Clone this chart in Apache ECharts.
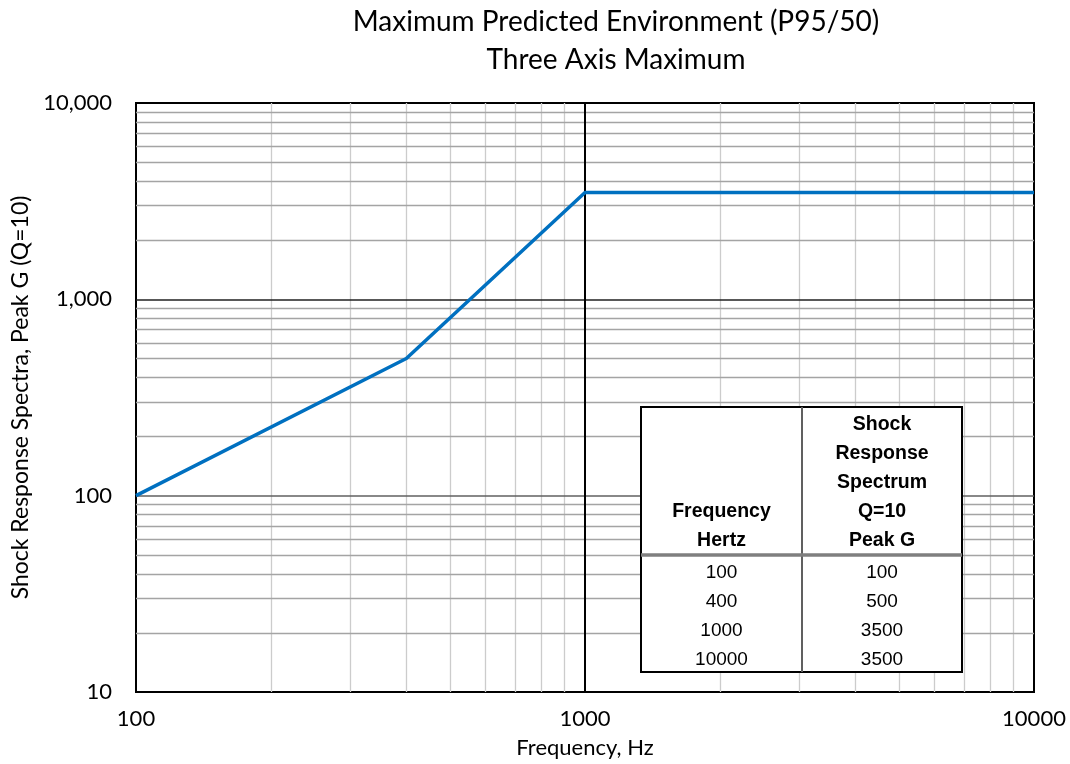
<!DOCTYPE html>
<html>
<head>
<meta charset="utf-8">
<script src="https://cdn.jsdelivr.net/npm/echarts@6/dist/echarts.min.js"></script>
<style>html,body{margin:0;padding:0;background:#fff;}#chart{width:1070px;height:764px;}</style>
</head>
<body>
<div id="chart"></div>
<script>
const titleLines = ['Maximum Predicted Environment (P95/50)', 'Three Axis Maximum'];
const xAxisName = 'Frequency, Hz';
const yAxisName = 'Shock Response Spectra, Peak G (Q=10)';
const freqHz = [100, 400, 1000, 10000];
const peakG = [100, 500, 3500, 3500];
const xMajor = [1000];
const yMajor = [100, 1000];
const xMinor = [200, 300, 400, 500, 600, 700, 800, 900, 2000, 3000, 4000, 5000, 6000, 7000, 8000, 9000];
const yMinor = [20, 30, 40, 50, 60, 70, 80, 90, 200, 300, 400, 500, 600, 700, 800, 900, 2000, 3000, 4000, 5000, 6000, 7000, 8000, 9000];
const tableHeadCol1 = ['Frequency', 'Hertz'];
const tableHeadCol2 = ['Shock', 'Response', 'Spectrum', 'Q=10', 'Peak G'];

const FONT = 'Lato';
const chart = echarts.init(document.getElementById('chart'));

const gridLines = [];
xMinor.forEach(v => gridLines.push({xAxis: v, lineStyle: {color: '#cccccc', width: 1.3, type: 'solid'}}));
yMinor.forEach(v => gridLines.push({yAxis: v, lineStyle: {color: '#a4a4a4', width: 1.3, type: 'solid'}}));
yMajor.forEach(v => gridLines.push({yAxis: v, lineStyle: {color: v === 1000 ? '#202020' : '#606060', width: 1.5, type: 'solid'}}));
xMajor.forEach(v => gridLines.push({xAxis: v, lineStyle: {color: '#000', width: 2, type: 'solid'}}));

// table graphics
const T = {x: 641, y: 407, w: 321, h: 265, colX: 802, sepY: 555};
const c1 = (T.x + T.colX) / 2, c2 = (T.colX + T.x + T.w) / 2;
const graphics = [
  {type: 'rect', z: 100, shape: {x: T.x, y: T.y, width: T.w, height: T.h}, style: {fill: '#fff', stroke: '#000', lineWidth: 2}},
  {type: 'line', z: 101, shape: {x1: T.colX, y1: T.y, x2: T.colX, y2: T.y + T.h}, style: {stroke: '#606060', lineWidth: 2}},
  {type: 'line', z: 101, shape: {x1: T.x, y1: T.sepY, x2: T.x + T.w, y2: T.sepY}, style: {stroke: '#7f7f7f', lineWidth: 3.5}}
];
const lineH = 29;
const boldFont = 'bold 19.5px "Liberation Sans"';
const regFont = '19px "Liberation Sans"';
tableHeadCol2.forEach((t, i) => graphics.push({type: 'text', z: 102, style: {text: t, x: c2, y: 425 + i * lineH, textAlign: 'center', textVerticalAlign: 'middle', font: boldFont, fill: '#000'}}));
tableHeadCol1.forEach((t, i) => graphics.push({type: 'text', z: 102, style: {text: t, x: c1, y: 512 + i * lineH, textAlign: 'center', textVerticalAlign: 'middle', font: boldFont, fill: '#000'}}));
freqHz.forEach((f, i) => {
  graphics.push({type: 'text', z: 102, style: {text: String(f), x: c1, y: 573 + i * lineH, textAlign: 'center', textVerticalAlign: 'middle', font: regFont, fill: '#000'}});
  graphics.push({type: 'text', z: 102, style: {text: String(peakG[i]), x: c2, y: 573 + i * lineH, textAlign: 'center', textVerticalAlign: 'middle', font: regFont, fill: '#000'}});
});
titleLines.forEach((t, i) => graphics.push({type: 'text', z: 102, style: {text: t, x: 616, y: 22 + i * 38, textAlign: 'center', textVerticalAlign: 'middle', font: '28px ' + FONT, fill: '#000'}}));

chart.setOption({
  backgroundColor: '#fff',
  animation: false,
  grid: {left: 136, right: 36, top: 103, bottom: 72, show: true, borderColor: '#000', borderWidth: 2, backgroundColor: 'transparent'},
  xAxis: {
    type: 'log', logBase: 10, min: 100, max: 10000,
    name: xAxisName, nameLocation: 'middle', nameGap: 45,
    nameTextStyle: {fontFamily: FONT, fontSize: 22, color: '#000'},
    axisLine: {show: true, lineStyle: {color: '#000', width: 2}},
    axisTick: {show: false},
    axisLabel: {fontFamily: FONT, fontSize: 22, color: '#000', margin: 16, formatter: v => String(Math.round(v))},
    splitLine: {show: false}
  },
  yAxis: {
    type: 'log', logBase: 10, min: 10, max: 10000,
    name: yAxisName, nameLocation: 'middle', nameGap: 102, nameRotate: 90,
    nameTextStyle: {fontFamily: FONT, fontSize: 23, color: '#000'},
    axisLine: {show: true, lineStyle: {color: '#000', width: 2}},
    axisTick: {show: false},
    axisLabel: {fontFamily: FONT, fontSize: 22, color: '#000', margin: 24, formatter: v => Math.round(v).toLocaleString('en-US')},
    splitLine: {show: false}
  },
  series: [
    {
      type: 'line', data: [], silent: true,
      markLine: {silent: true, symbol: 'none', label: {show: false}, data: gridLines, animation: false}
    },
    {
      type: 'line', z: 10,
      data: freqHz.map((f, i) => [f, peakG[i]]),
      showSymbol: false, symbol: 'none',
      lineStyle: {color: '#0070c0', width: 3.5},
      itemStyle: {color: '#0070c0'}
    }
  ],
  graphic: graphics
});
</script>
</body>
</html>
